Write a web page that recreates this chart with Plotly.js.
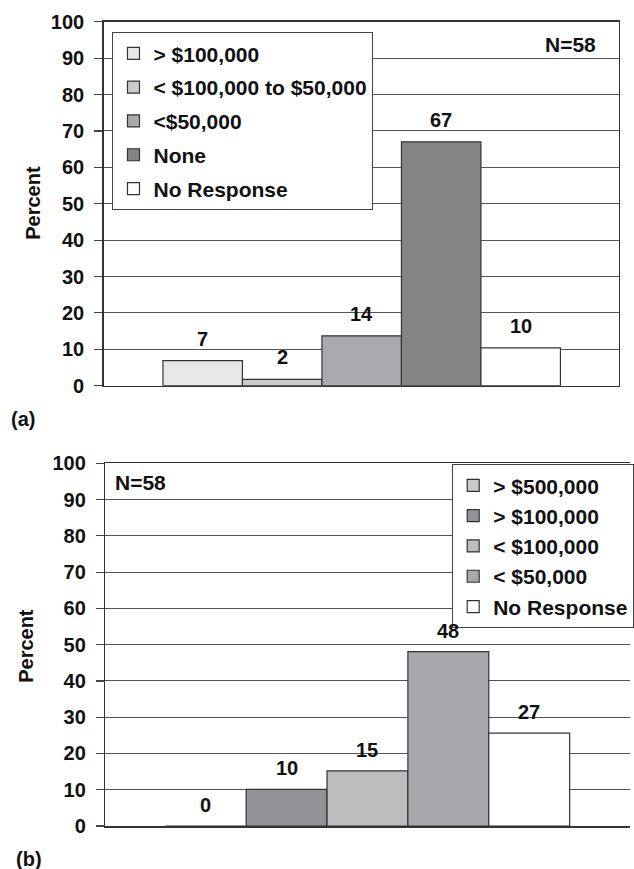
<!DOCTYPE html>
<html>
<head>
<meta charset="utf-8">
<script src="https://cdn.plot.ly/plotly-3.0.1.min.js"></script>
<style>
  html, body { margin: 0; padding: 0; background: #fff; }
  #chart { width: 634px; height: 869px; }
</style>
</head>
<body>
<div id="chart"></div>
<script>
// ---- Data: panel (a) ----
const catsA   = ['> $100,000', '< $100,000 to $50,000', '<$50,000', 'None', 'No Response'];
const valsA   = [6.9, 1.76, 13.7, 67, 10.4];
const labelsA = ['7', '2', '14', '67', '10'];
const colorsA = ['#e6e7e8', '#c9cacc', '#a9aaad', '#838486', '#ffffff'];

// ---- Data: panel (b) ----
const catsB   = ['> $500,000', '> $100,000', '< $100,000', '< $50,000', 'No Response'];
const valsB   = [0, 10.1, 15.2, 48.1, 25.6];
const labelsB = ['0', '10', '15', '48', '27'];
const colorsB = ['#c9cacc', '#939497', '#bcbdbf', '#a7a8ab', '#ffffff'];

const yTicks = [0, 10, 20, 30, 40, 50, 60, 70, 80, 90, 100];
const sampleN = 'N=58';

const FONT = 'Liberation Sans, Arial, Helvetica, sans-serif';
const fnt = {family: FONT, size: 20, color: '#111', weight: 'bold'};
const fntL = {family: FONT, size: 21, color: '#111', weight: 'bold'};

const traces = [];
catsA.forEach((c, i) => {
  traces.push({
    type: 'bar', x: [c], y: [valsA[i]], name: c,
    xaxis: 'x', yaxis: 'y', legend: 'legend', legendgroup: 'a' + i,
    marker: {color: colorsA[i], line: {color: '#333', width: 1.2}},
    hoverinfo: 'skip'
  });
});
catsB.forEach((c, i) => {
  traces.push({
    type: 'bar', x: [c], y: [valsB[i]], name: c,
    xaxis: 'x2', yaxis: 'y2', legend: 'legend2', legendgroup: 'b' + i,
    marker: {color: colorsB[i], line: {color: '#333', width: 1.2}},
    hoverinfo: 'skip'
  });
});

const annotations = [];
catsA.forEach((c, i) => annotations.push({
  xref: 'x', yref: 'y', x: c, y: valsA[i], text: labelsA[i], showarrow: false,
  xanchor: 'center', yanchor: 'middle', yshift: 22, font: fnt
}));
catsB.forEach((c, i) => annotations.push({
  xref: 'x2', yref: 'y2', x: c, y: valsB[i], text: labelsB[i], showarrow: false,
  xanchor: 'center', yanchor: 'middle', yshift: 21, font: fnt
}));
const paperNote = (x, y, text, extra) => Object.assign({
  xref: 'paper', yref: 'paper', x: x / 634, y: 1 - y / 869, text: text,
  showarrow: false, xanchor: 'center', yanchor: 'middle', font: fnt
}, extra || {});
annotations.push(
  paperNote(574, 45, sampleN, {font: fntL}),
  paperNote(141, 482, sampleN, {font: fntL}),
  paperNote(23, 419, '(a)'),
  paperNote(29, 859, '(b)'),
  paperNote(33, 203, 'Percent', {textangle: -90}),
  paperNote(26, 646, 'Percent', {textangle: -90})
);

const yax = (domain, mirror) => ({
  domain: domain, range: [0, 100], tickvals: yTicks, ticktext: yTicks.map(String),
  showgrid: true, gridcolor: '#555', gridwidth: 1,
  showline: true, linecolor: '#333', linewidth: 1.5, mirror: mirror,
  ticks: 'outside', ticklen: 8, tickcolor: '#444', tickwidth: 1.2,
  ticklabelstandoff: 6,
  tickfont: fnt, zeroline: false, fixedrange: true
});
const xax = (domain, range) => ({
  domain: domain, type: 'category', range: range,
  showticklabels: false, ticks: '', showgrid: false, zeroline: false,
  showline: true, linecolor: '#333', linewidth: 1.5, mirror: true, fixedrange: true
});

const layout = {
  width: 634, height: 869,
  margin: {l: 0, r: 0, t: 0, b: 0},
  paper_bgcolor: '#fff', plot_bgcolor: '#fff',
  barmode: 'overlay', bargap: 0,
  showlegend: true,
  font: fnt,
  xaxis: xax([104.3/634, 622.7/634], [-1.246, 5.234]),
  yaxis: yax([1 - 385.7/869, 1 - 21.7/869], true),
  xaxis2: xax([106/634, 1], [-1.241, 5.246]),
  yaxis2: Object.assign(yax([1 - 826/869, 1 - 463.3/869], false), {anchor: 'x2'}),
  legend: {
    x: 113/634, y: 1 - 32/869, xanchor: 'left', yanchor: 'top',
    bgcolor: '#fff', bordercolor: '#444', borderwidth: 1.2,
    font: fntL, traceorder: 'grouped', tracegroupgap: 3.5
  },
  legend2: {
    x: 455/634, y: 1 - 464/869, xanchor: 'left', yanchor: 'top',
    bgcolor: '#fff', bordercolor: '#444', borderwidth: 1.2,
    font: fntL, traceorder: 'grouped', tracegroupgap: 0
  },
  annotations: annotations
};
layout.xaxis2.anchor = 'y2';

Plotly.newPlot('chart', traces, layout, {displayModeBar: false, staticPlot: true});
</script>
</body>
</html>
